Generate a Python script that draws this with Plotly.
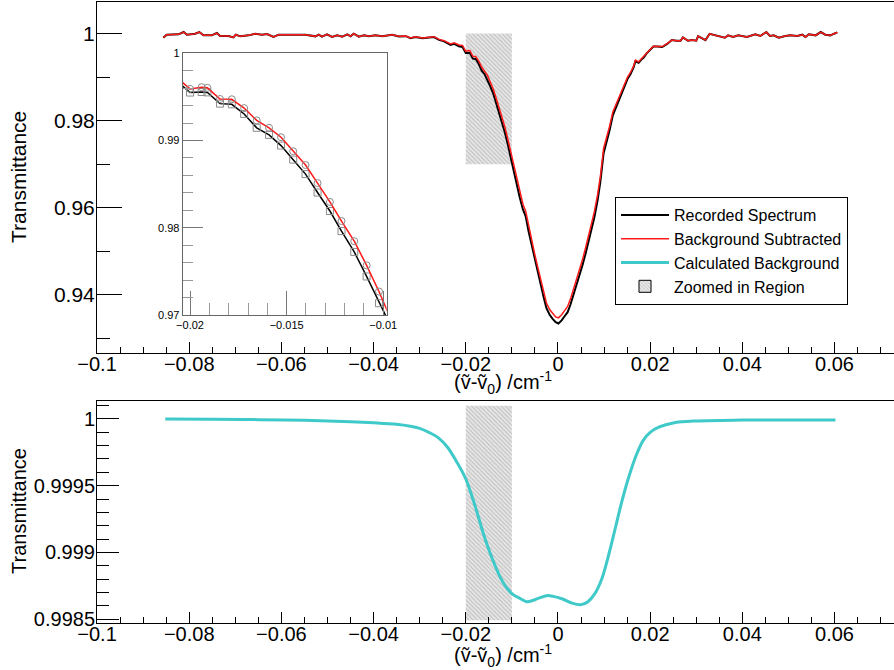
import plotly.graph_objects as go

# ---------------- data ----------------
x_spec = [
    -0.0856, -0.0849, -0.0823, -0.0812, -0.0805, -0.0787, -0.0778, -0.0769, -0.0751, -0.0740,
    -0.0733, -0.0715, -0.0704, -0.0699, -0.0689, -0.0671, -0.0657, -0.0642, -0.0631, -0.0617,
    -0.0606, -0.0584, -0.0562, -0.0548, -0.0526, -0.0519, -0.0512, -0.0501, -0.0490, -0.0479,
    -0.0468, -0.0457, -0.0450, -0.0443, -0.0432, -0.0421, -0.0410, -0.0396, -0.0381, -0.0360,
    -0.0345, -0.0330, -0.0320, -0.0309, -0.0294, -0.0280, -0.0269, -0.0258, -0.0247, -0.0233,
    -0.0225, -0.0215, -0.0207,
    -0.0200, -0.0194, -0.0191, -0.01845, -0.01784, -0.0172, -0.01655, -0.01591, -0.01529, -0.01466,
    -0.01402, -0.0134, -0.01276, -0.01216, -0.0115, -0.01086, -0.01022,
    -0.0096, -0.0089, -0.0083, -0.0076, -0.0070, -0.0064, -0.0057, -0.0051, -0.0044, -0.0038,
    -0.0031, -0.0025, -0.0018, -0.0012, -0.0005, 0.0001, 0.0008, 0.0014, 0.0021, 0.0027,
    0.0034, 0.0040, 0.0047, 0.0053, 0.0060, 0.0066, 0.0073, 0.0079, 0.0086, 0.0092,
    0.0099, 0.0106, 0.0112, 0.0119, 0.0125, 0.0131, 0.0138, 0.0144, 0.0151, 0.0157,
    0.0164, 0.0168, 0.0175, 0.0181, 0.0186, 0.0192, 0.0197, 0.0207, 0.0215, 0.0226,
    0.0237, 0.0247,
    0.0257, 0.0266, 0.0271, 0.0282, 0.0291, 0.0300, 0.0304, 0.0313, 0.0320, 0.0329,
    0.0348, 0.0362, 0.0369, 0.0380, 0.0391, 0.0410, 0.0428, 0.0439, 0.0452, 0.0460,
    0.0468, 0.0479, 0.0493, 0.0504, 0.0519, 0.0530, 0.0537, 0.0544, 0.0559, 0.0570,
    0.0580, 0.0591, 0.0599, 0.0606,
]

recorded = [
    0.99904, 0.99973, 0.99981, 1.00034, 0.99973, 0.99996, 1.00034, 0.99958, 0.99958, 1.00011,
    0.99943, 0.99943, 0.99912, 0.99973, 0.99935, 0.99958, 0.99996, 0.99973, 0.99989, 0.99920,
    0.99973, 0.99973, 0.99989, 0.99973, 0.99935, 0.99973, 0.99927, 0.99981, 0.99920, 0.99958,
    0.99927, 0.99981, 0.99935, 0.99996, 0.99927, 0.99958, 0.99935, 0.99958, 0.99935, 0.99973,
    0.99932, 0.99939, 0.99892, 0.99921, 0.99890, 0.99903, 0.99917, 0.99853, 0.99819, 0.99739,
    0.99764, 0.99706, 0.99688,
    0.99550, 0.99556, 0.99552, 0.99423, 0.99415, 0.99305, 0.99146, 0.99065, 0.98942, 0.98781,
    0.98615, 0.98404, 0.98192, 0.97962, 0.97723, 0.97442, 0.97135,
    0.9683, 0.9652, 0.9624, 0.9596, 0.9580, 0.9547, 0.9513, 0.9484, 0.9452, 0.9424,
    0.9394, 0.9369, 0.9354, 0.9345, 0.9337, 0.9334, 0.9341, 0.9350, 0.9360, 0.9377,
    0.9400, 0.9422, 0.9444, 0.9467, 0.9495, 0.9522, 0.9548, 0.9578, 0.9617, 0.9660,
    0.9725, 0.9752, 0.9778, 0.9812, 0.9828, 0.9840, 0.9859, 0.9877, 0.9896, 0.9906,
    0.9922, 0.9936, 0.9933, 0.9940, 0.9945, 0.9954, 0.9959, 0.9970, 0.9970, 0.9969,
    0.9976, 0.9985,
    0.99833, 0.99833, 0.99910, 0.99833, 0.99849, 0.99834, 0.99942, 0.99889, 0.99849, 0.99994,
    0.99943, 0.99904, 0.99958, 0.99920, 0.99958, 0.99920, 0.99981, 0.99943, 1.00034, 0.99943,
    0.99958, 0.99904, 0.99943, 0.99958, 0.99943, 0.99973, 0.99920, 0.99981, 0.99958, 1.00034,
    0.99973, 0.99958, 0.99996, 1.00025,
]

subtracted = [
    0.99904, 0.99973, 0.99981, 1.00034, 0.99973, 0.99996, 1.00034, 0.99958, 0.99958, 1.00011,
    0.99943, 0.99943, 0.99912, 0.99973, 0.99935, 0.99958, 0.99996, 0.99973, 0.99989, 0.99920,
    0.99973, 0.99973, 0.99989, 0.99973, 0.99935, 0.99973, 0.99927, 0.99981, 0.99920, 0.99958,
    0.99927, 0.99981, 0.99935, 0.99996, 0.99927, 0.99958, 0.99935, 0.99958, 0.99935, 0.99973,
    0.99935, 0.99943, 0.99897, 0.99927, 0.99897, 0.99912, 0.99927, 0.99865, 0.99835, 0.99759,
    0.99789, 0.99736, 0.99726,
    0.99592, 0.99612, 0.99604, 0.99476, 0.99473, 0.99372, 0.99231, 0.99146, 0.99038, 0.98877,
    0.98719, 0.98512, 0.98296, 0.98077, 0.97846, 0.97569, 0.97269,
    0.9695, 0.9664, 0.9636, 0.9608, 0.9592, 0.9559, 0.9525, 0.9496, 0.9464, 0.9436,
    0.9406, 0.9381, 0.9366, 0.9357, 0.9349, 0.9347, 0.9354, 0.9363, 0.9373, 0.9390,
    0.9413, 0.9435, 0.9457, 0.9480, 0.9508, 0.9535, 0.9561, 0.9591, 0.9630, 0.9672,
    0.9736, 0.9762, 0.9787, 0.9820, 0.9835, 0.9847, 0.9865, 0.9882, 0.9900, 0.9910,
    0.9925, 0.9939, 0.9935, 0.9942, 0.9947, 0.9955, 0.9960, 0.9971, 0.9971, 0.9970,
    0.9977, 0.9985,
    0.99835, 0.99835, 0.99912, 0.99835, 0.99850, 0.99835, 0.99943, 0.99890, 0.99850, 0.99995,
    0.99943, 0.99904, 0.99958, 0.99920, 0.99958, 0.99920, 0.99981, 0.99943, 1.00034, 0.99943,
    0.99958, 0.99904, 0.99943, 0.99958, 0.99943, 0.99973, 0.99920, 0.99981, 0.99958, 1.00034,
    0.99973, 0.99958, 0.99996, 1.00025,
]

bg_x = [-0.0852, -0.075, -0.065, -0.055, -0.045, -0.040, -0.035, -0.032, -0.030, -0.028,
        -0.026, -0.024, -0.022, -0.020, -0.018, -0.016, -0.014, -0.012, -0.010, -0.008,
        -0.0068, -0.005, -0.0025, -0.001, 0.001, 0.003, 0.005, 0.0065, 0.008, 0.0095,
        0.011, 0.0125, 0.014, 0.0155, 0.017, 0.0185, 0.020, 0.022, 0.025, 0.030,
        0.040, 0.050, 0.0602]
bg_y = [1.0, 0.999998, 0.999995, 0.99999, 0.99998, 0.999972, 0.99996, 0.999945, 0.99993, 0.9999,
        0.99986, 0.99979, 0.99968, 0.99955, 0.99935, 0.99912, 0.99893, 0.99878, 0.99869, 0.99865,
        0.99863, 0.998645, 0.998675, 0.99867, 0.99865, 0.99862, 0.998608, 0.99863, 0.99869, 0.99880,
        0.99898, 0.99919, 0.99940, 0.99958, 0.99973, 0.99984, 0.99990, 0.99994, 0.99997, 0.999985,
        0.999992, 0.999993, 0.999993]

zoom_x = [-0.02, -0.01]
zoom_y_top = [0.97, 1.0]
zoom_y_bottom = [0.99849, 1.0001]

# ---------------- style ----------------
FONT = "Liberation Sans, Arial, Helvetica, sans-serif"
CYAN = "#3fc9c9"
RED = "#ff1a1a"
W, H = 894, 670
ML = 97
PW = W - ML

def px_x(p):
    return (p - ML) / PW

def px_y(p):
    return 1 - p / H

fig = go.Figure()

pattern = dict(shape="\\", size=3, solidity=0.3, fgcolor="#8c8c8c", bgcolor="#e6e6e6", fillmode="overlay")

# zoomed region (top panel)
fig.add_trace(go.Bar(
    x=[(zoom_x[0] + zoom_x[1]) / 2], y=[zoom_y_top[1] - zoom_y_top[0]], base=[zoom_y_top[0]],
    width=[zoom_x[1] - zoom_x[0]], name="Zoomed in Region",
    marker=dict(color="#e6e6e6", pattern=pattern, line=dict(width=0)),
    xaxis="x", yaxis="y", showlegend=False, hoverinfo="skip"))
# legend entry for the zoomed region (no data of its own)
fig.add_trace(go.Bar(
    x=[None], y=[None], name="Zoomed in Region",
    marker=dict(color="#e6e6e6", pattern=pattern, line=dict(width=1, color="black")),
    xaxis="x", yaxis="y", legendrank=4, showlegend=True, hoverinfo="skip"))

fig.add_trace(go.Scatter(x=x_spec, y=recorded, mode="lines", name="Recorded Spectrum",
                         line=dict(color="black", width=2), xaxis="x", yaxis="y", legendrank=1))
fig.add_trace(go.Scatter(x=x_spec, y=subtracted, mode="lines", name="Background Subtracted",
                         line=dict(color=RED, width=1.5), xaxis="x", yaxis="y", legendrank=2))

# bottom panel
fig.add_trace(go.Bar(
    x=[(zoom_x[0] + zoom_x[1]) / 2], y=[zoom_y_bottom[1] - zoom_y_bottom[0]], base=[zoom_y_bottom[0]],
    width=[zoom_x[1] - zoom_x[0]], name="Zoomed in Region",
    marker=dict(color="#e6e6e6", pattern=pattern, line=dict(width=0)),
    xaxis="x2", yaxis="y2", showlegend=False, hoverinfo="skip"))
fig.add_trace(go.Scatter(x=bg_x, y=bg_y, mode="lines", name="Calculated Background",
                         line=dict(color=CYAN, width=3, shape="spline", smoothing=1.0),
                         xaxis="x2", yaxis="y2", legendrank=3))

# inset
fig.add_trace(go.Scatter(x=x_spec, y=recorded, mode="lines+markers", showlegend=False,
                         line=dict(color="black", width=1.5),
                         marker=dict(symbol="square-open", size=7, color="#8a8a8a", line=dict(width=1)),
                         xaxis="x3", yaxis="y3"))
fig.add_trace(go.Scatter(x=x_spec, y=subtracted, mode="lines+markers", showlegend=False,
                         line=dict(color=RED, width=1.5),
                         marker=dict(symbol="circle-open", size=7, color="#8a8a8a", line=dict(width=1)),
                         xaxis="x3", yaxis="y3"))

common_x = dict(showgrid=False, zeroline=False, showline=True, linecolor="black", linewidth=1,
                mirror=True, ticks="inside", ticklen=11, tickcolor="black", dtick=0.02, tick0=0,
                minor=dict(dtick=0.005, ticks="inside", ticklen=6, tickcolor="black", showgrid=False),
                tickfont=dict(family=FONT, size=20, color="black"), range=[-0.1, 0.0729],
                automargin=False, ticklabelstandoff=-7)

fig.update_layout(
    width=W, height=H, autosize=False,
    margin=dict(l=ML, r=0, t=0, b=0, pad=0, autoexpand=False),
    paper_bgcolor="white", plot_bgcolor="white",
    font=dict(family=FONT, color="black"),
    barmode="overlay",
    showlegend=True,
    legend=dict(x=px_x(615), y=px_y(197), xanchor="left", yanchor="top",
                bgcolor="white", bordercolor="black", borderwidth=1,
                font=dict(family=FONT, size=16, color="black"),
                traceorder="normal", itemwidth=48, tracegroupgap=0),
    xaxis=dict(domain=[0, 1], anchor="y", **common_x),
    yaxis=dict(domain=[px_y(353), px_y(2)], anchor="x", range=[0.92662, 1.00724],
               showgrid=False, zeroline=False, showline=True, linecolor="black", linewidth=1,
               ticks="inside", ticklen=25, tickcolor="black", dtick=0.02, tick0=0,
               minor=dict(dtick=0.01, ticks="inside", ticklen=13, tickcolor="black", showgrid=False),
               tickfont=dict(family=FONT, size=21, color="black"), automargin=False,
               ticklabelstandoff=-3),
    xaxis2=dict(domain=[0, 1], anchor="y2", **common_x),
    yaxis2=dict(domain=[px_y(623.3), px_y(400.7)], anchor="x2", range=[0.998468, 1.000137],
                showgrid=False, zeroline=False, showline=True, linecolor="black", linewidth=1,
                ticks="inside", ticklen=22, tickcolor="black", dtick=0.0005, tick0=0,
                minor=dict(dtick=0.0001, ticks="inside", ticklen=12, tickcolor="black", showgrid=False),
                tickfont=dict(family=FONT, size=20, color="black"), automargin=False,
                ticklabelstandoff=-3),
    xaxis3=dict(domain=[px_x(182.7), px_x(386.7)], anchor="y3", range=[-0.02038, -0.00982],
                showgrid=False, zeroline=False, showline=True, linecolor="#666", linewidth=1, mirror=True,
                ticks="inside", ticklen=24, tickcolor="#777", dtick=0.005, tick0=0,
                minor=dict(dtick=0.001, ticks="inside", ticklen=12, tickcolor="#999", showgrid=False),
                tickfont=dict(family=FONT, size=11, color="black"), automargin=False),
    yaxis3=dict(domain=[px_y(315), px_y(53.3)], anchor="x3", range=[0.97, 1.0],
                showgrid=False, zeroline=False, showline=True, linecolor="#666", linewidth=1, mirror=True,
                ticks="inside", ticklen=20, tickcolor="#777", dtick=0.01, tick0=0,
                minor=dict(dtick=0.002, ticks="inside", ticklen=10, tickcolor="#999", showgrid=False),
                tickfont=dict(family=FONT, size=11, color="black"), automargin=False),
)

xtitle = "(\u1e7d-\u1e7d<sub>0</sub>) /cm<sup>-1</sup>"
ann = [
    dict(text="Transmittance", x=px_x(18), y=px_y(177), textangle=-90, size=21),
    dict(text="Transmittance", x=px_x(19), y=px_y(511), textangle=-90, size=20),
    dict(text=xtitle, x=px_x(503), y=px_y(382), textangle=0, size=20),
    dict(text=xtitle, x=px_x(503), y=px_y(655), textangle=0, size=20),
]
for a in ann:
    fig.add_annotation(text=a["text"], x=a["x"], y=a["y"], xref="paper", yref="paper",
                       xanchor="center", yanchor="middle", textangle=a["textangle"],
                       showarrow=False, font=dict(family=FONT, size=a["size"], color="black"))

fig.write_html(
    "out.html",
    config={"displayModeBar": False},
    post_script="document.body.style.margin='0';document.body.style.padding='0';"
                "document.body.style.overflow='hidden';",
)
